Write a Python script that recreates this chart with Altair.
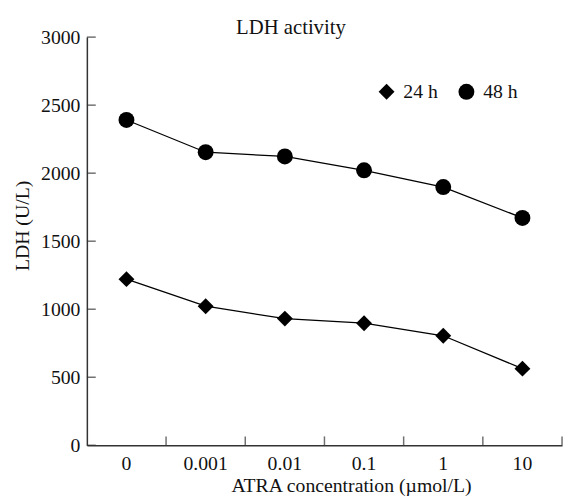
import altair as alt
import pandas as pd

concs = ["0", "0.001", "0.01", "0.1", "1", "10"]
ldh_24h = [1221, 1022, 931, 897, 805, 563]
ldh_48h = [2391, 2154, 2123, 2021, 1898, 1671]
series = ["24 h", "48 h"]
y_ticks = [0, 500, 1000, 1500, 2000, 2500, 3000]

FONT = "Liberation Serif"
FS = 20
W, H = 482, 414

rows = []
for c, v in zip(concs, ldh_24h):
    rows.append({"conc": c, "ldh": v, "series": "24 h"})
for c, v in zip(concs, ldh_48h):
    rows.append({"conc": c, "ldh": v, "series": "48 h"})
df = pd.DataFrame(rows)

xscale = alt.Scale(domain=concs, paddingInner=0, paddingOuter=0)
yscale = alt.Scale(domain=[0, 3000], nice=False)

x_enc = alt.X("conc:N", sort=concs, scale=xscale,
              axis=alt.Axis(title="ATRA concentration (µmol/L)", labelAngle=0,
                            ticks=False, labelPadding=9, domainColor="#333",
                            domainWidth=1.5, labelFont=FONT, labelFontSize=FS,
                            labelColor="#111", titleFont=FONT, titleFontSize=FS,
                            titleFontWeight="normal", titleColor="#111",
                            titleX=268, titleY=47, titleBaseline="alphabetic"))
y_enc = alt.Y("ldh:Q", scale=yscale,
              axis=alt.Axis(title="LDH (U/L)", values=y_ticks, ticks=False,
                            format="d",
                            grid=False, labelPadding=7, domainColor="#333",
                            domainWidth=1.5, labelFont=FONT, labelFontSize=FS,
                            labelColor="#111", titleFont=FONT, titleFontSize=FS,
                            titleFontWeight="normal", titleColor="#111",
                            titleX=-65, titleY=191, titleBaseline="middle",
                            titleAlign="center"))

lines = alt.Chart(df).mark_line(color="black", strokeWidth=1.3).encode(
    x=x_enc, y=y_enc, detail="series:N")

points = alt.Chart(df).mark_point(filled=True, color="black", opacity=1,
                                  size=260).encode(
    x=x_enc, y=y_enc,
    shape=alt.Shape("series:N",
                    scale=alt.Scale(domain=series, range=["diamond", "circle"]),
                    legend=alt.Legend(title=None, orient="none", legendX=294,
                                      legendY=45, direction="horizontal",
                                      labelFont=FONT, labelFontSize=FS,
                                      labelColor="#111", symbolSize=260,
                                      symbolFillColor="black", symbolStrokeColor="black",
                                      labelOffset=7, columnPadding=17)))

ytick_df = pd.DataFrame({"v": y_ticks})
yticks = alt.Chart(ytick_df).mark_tick(orient="horizontal", size=9, thickness=1.5,
                                       color="#333").encode(
    y=alt.Y("v:Q", scale=yscale), x=alt.value(4.5))

xtick_df = pd.DataFrame({"conc": concs})
xticks = alt.Chart(xtick_df).mark_tick(orient="vertical", size=9, thickness=1.5,
                                       color="#333").encode(
    x=alt.X("conc:N", sort=concs, scale=xscale, bandPosition=1),
    y=alt.value(H - 4.5))

chart = alt.layer(lines, points, yticks, xticks).properties(
    width=W, height=H,
    title=alt.TitleParams("LDH activity", font=FONT, fontSize=21,
                          fontWeight="normal", color="#111", dx=-34, offset=-11),
    autosize=alt.AutoSizeParams(type="none"),
    padding={"left": 80, "top": 26, "right": 3, "bottom": 54},
).configure_view(stroke=None).configure_axis(grid=False)

chart.save("out.html", embed_options={"renderer": "svg", "actions": False})
